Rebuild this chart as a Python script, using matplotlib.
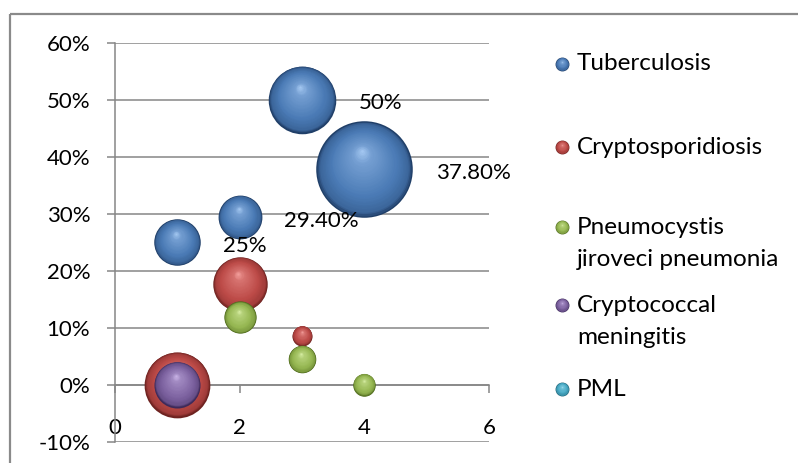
import numpy as np
import matplotlib
matplotlib.use("Agg")
import matplotlib.pyplot as plt
from matplotlib.transforms import offset_copy
from matplotlib.colors import to_rgb
from matplotlib.patches import Rectangle
from matplotlib.ticker import FuncFormatter

plt.rcParams['font.family'] = ['Lato', 'DejaVu Sans']

# data (x, share, bubble size)
names = ["Tuberculosis", "Cryptosporidiosis", "Pneumocystis\njiroveci pneumonia",
         "Cryptococcal\nmeningitis", "PML"]

tb_x = [1, 2, 3, 4]
tb_y = [0.25, 0.294, 0.50, 0.378]
tb_size = [5.4, 4.8, 11.4, 23.3]
tb_labels = ["25%", "29.40%", "50%", "37.80%"]

crypto_x = [2, 3, 1]
crypto_y = [0.177, 0.086, 0.0]
crypto_size = [7.4, 1.0, 10.8]

pcp_x = [2, 3, 4]
pcp_y = [0.118, 0.045, 0.0]
pcp_size = [2.6, 1.9, 1.25]

cm_x = [1]
cm_y = [0.0]
cm_size = [5.3]

pml_x = []
pml_y = []
pml_size = []

x_ticks = [0, 2, 4, 6]
y_ticks = [-0.1, 0, 0.1, 0.2, 0.3, 0.4, 0.5, 0.6]

# (dark, base, light) per series
palette = [("#203f68", "#4a7ab5", "#a9ccf5"),
           ("#6e2220", "#bd4b48", "#f6a3a0"),
           ("#4d681c", "#97b853", "#daf0a8"),
           ("#3d2a5a", "#7d62a0", "#cdb8ea"),
           ("#1d6073", "#47a9c4", "#a8e4f4")]

grid_col = "#868686"


def shade(t, dark, base, light):
    stops = [0, 0.07, 0.3, 0.8, 1.0]
    d, b, l = to_rgb(dark), to_rgb(base), to_rgb(light)
    mid = tuple(0.35 * d[k] + 0.65 * b[k] for k in range(3))
    hi = tuple(0.55 * b[k] + 0.45 * l[k] for k in range(3))
    cols = [d, mid, b, hi, l]
    return tuple(np.interp(t, stops, [c[k] for c in cols]) for k in range(3))


def sphere(ax, x, y, r, cols, z, n=36):
    # r is the radius in points; stack shrinking discs toward the highlight
    for i in range(n):
        t = i / n
        f = 1 - t
        tr = offset_copy(ax.transData, fig=ax.figure, x=-0.05 * r * t, y=0.38 * r * t,
                         units='points')
        ax.scatter([x], [y], s=(2 * r * f) ** 2, color=shade(t, *cols),
                   transform=tr, linewidths=0, zorder=z, clip_on=False)


def size_to_r(sz):
    # bubble area proportional to size; px -> pt at 100 dpi
    return np.sqrt(sz) * 10 * 0.72


fig = plt.figure(figsize=(7.98, 4.63), dpi=100)

# background overlay in pixel coordinates for the border and the legend
bg = fig.add_axes([0, 0, 1, 1], zorder=0)
bg.set_xlim(0, 798)
bg.set_ylim(463, 0)
bg.axis("off")
bg.add_patch(Rectangle((10, 14), 820, 480, fill=False, edgecolor="#8a8a8a", lw=1.6))

ax = fig.add_axes([115 / 798, 21.3 / 463, 374 / 798, 399 / 463], zorder=1)
ax.patch.set_alpha(0)
ax.set_xlim(0, 6)
ax.set_ylim(-0.1, 0.6)
ax.set_xticks(x_ticks)
ax.set_yticks(y_ticks)
ax.yaxis.set_major_formatter(FuncFormatter(lambda v, p: "%d%%" % round(v * 100)))
ax.grid(axis="y", color=grid_col, lw=1.1)
ax.set_axisbelow(True)
for s in ["top", "right"]:
    ax.spines[s].set_visible(False)
ax.spines["left"].set_color(grid_col)
ax.spines["left"].set_linewidth(1.1)
ax.spines["bottom"].set_color(grid_col)
ax.spines["bottom"].set_linewidth(1.1)
ax.spines["bottom"].set_position(("data", 0))
ax.tick_params(axis="y", direction="out", length=5.8, width=1.1, color=grid_col,
               labelsize=16, pad=12, labelcolor="black")
ax.tick_params(axis="x", direction="out", length=5.8, width=1.1, color=grid_col,
               labelsize=16, pad=18, labelcolor="black")

all_series = [(tb_x, tb_y, tb_size), (crypto_x, crypto_y, crypto_size),
              (pcp_x, pcp_y, pcp_size), (cm_x, cm_y, cm_size), (pml_x, pml_y, pml_size)]

z = 3
for (xs, ys, szs), cols in zip(all_series, palette):
    for x, y, sz in zip(xs, ys, szs):
        sphere(ax, x, y, size_to_r(sz), cols, z)

for x, y, sz, lab in zip(tb_x, tb_y, tb_size, tb_labels):
    ax.annotate(lab, (x, y), xytext=(size_to_r(sz) + 16.5, -2.5), textcoords="offset points",
                ha="left", va="center", fontsize=16, zorder=10)

# legend
leg_y = [64, 147, 227, 305, 389]
for nm, yy, cols in zip(names, leg_y, palette):
    sphere(bg, 562, yy, 5.0, cols, 2, n=14)
    for k, line in enumerate(nm.split("\n")):
        bg.text(577, yy + k * 33, line, ha="left", va="center", fontsize=17.5)

fig.savefig("out.png", dpi=100)
